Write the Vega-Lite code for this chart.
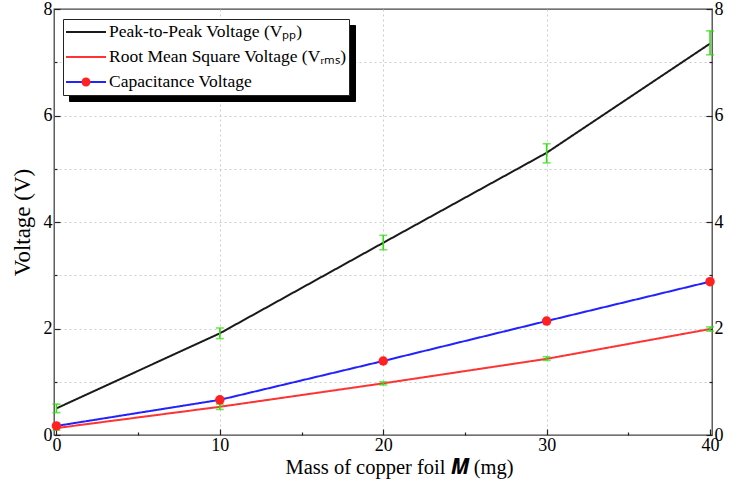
{
  "$schema": "https://vega.github.io/schema/vega-lite/v6.json",
  "width": 658,
  "height": 426,
  "autosize": {"type": "none"},
  "padding": {"left": 54, "top": 9, "right": 26, "bottom": 54},
  "background": "white",
  "config": {
    "font": "Liberation Serif",
    "view": {"stroke": "#444444", "strokeWidth": 1.3}
  },
  "data": {
    "values": [
      {"M": 0, "series": "Peak-to-Peak Voltage (Vₚₚ)", "V": 0.50, "lo": 0.42, "hi": 0.58},
      {"M": 10, "series": "Peak-to-Peak Voltage (Vₚₚ)", "V": 1.91, "lo": 1.81, "hi": 2.01},
      {"M": 20, "series": "Peak-to-Peak Voltage (Vₚₚ)", "V": 3.61, "lo": 3.48, "hi": 3.75},
      {"M": 30, "series": "Peak-to-Peak Voltage (Vₚₚ)", "V": 5.30, "lo": 5.11, "hi": 5.47},
      {"M": 40, "series": "Peak-to-Peak Voltage (Vₚₚ)", "V": 7.35, "lo": 7.14, "hi": 7.59},
      {"M": 0, "series": "Root Mean Square Voltage (Vᵣₘₛ)", "V": 0.13, "lo": 0.09, "hi": 0.18},
      {"M": 10, "series": "Root Mean Square Voltage (Vᵣₘₛ)", "V": 0.53, "lo": 0.48, "hi": 0.58},
      {"M": 20, "series": "Root Mean Square Voltage (Vᵣₘₛ)", "V": 0.97, "lo": 0.94, "hi": 1.00},
      {"M": 30, "series": "Root Mean Square Voltage (Vᵣₘₛ)", "V": 1.43, "lo": 1.40, "hi": 1.47},
      {"M": 40, "series": "Root Mean Square Voltage (Vᵣₘₛ)", "V": 1.99, "lo": 1.95, "hi": 2.03},
      {"M": 0, "series": "Capacitance Voltage", "V": 0.17},
      {"M": 10, "series": "Capacitance Voltage", "V": 0.66},
      {"M": 20, "series": "Capacitance Voltage", "V": 1.39},
      {"M": 30, "series": "Capacitance Voltage", "V": 2.14},
      {"M": 40, "series": "Capacitance Voltage", "V": 2.88}
    ]
  },
  "encoding": {
    "x": {
      "field": "M",
      "type": "quantitative",
      "scale": {"domain": [-0.15, 40.12], "nice": false, "zero": false},
      "axis": {
        "values": [0, 5, 10, 15, 20, 25, 30, 35, 40],
        "labelExpr": "datum.value % 10 === 0 ? datum.label : ''",
        "domain": false,
        "grid": true,
        "gridColor": "#cccccc",
        "gridDash": [2, 3],
        "gridOpacity": {"condition": {"test": "datum.value % 10 === 0 && datum.value > 0 && datum.value < 40", "value": 1}, "value": 0},
        "tickColor": "#222222",
        "tickWidth": 1.2,
        "tickSize": {"condition": {"test": "datum.value % 10 === 0", "value": -6}, "value": -3},
        "labelFont": "Liberation Serif",
        "labelFontSize": 18,
        "labelColor": "black",
        "labelPadding": 7,
        "title": "Mass of copper foil 𝑴 (mg)",
        "titleFont": "Liberation Serif",
        "titleFontSize": 20.5,
        "titleFontWeight": "normal",
        "titleColor": "black",
        "titlePadding": 3,
        "titleX": 345
      }
    }
  },
  "layer": [
    {
      "mark": {"type": "line", "strokeWidth": 2},
      "encoding": {
        "y": {
          "field": "V",
          "type": "quantitative",
          "scale": {"domain": [0, 8], "nice": false},
          "axis": {
            "values": [0, 1, 2, 3, 4, 5, 6, 7, 8],
            "labelExpr": "datum.value % 2 === 0 ? datum.label : ''",
            "domain": false,
            "grid": true,
            "gridColor": "#cccccc",
            "gridDash": [2, 3],
            "gridOpacity": {"condition": {"test": "datum.value > 0 && datum.value < 8", "value": 1}, "value": 0},
            "tickColor": "#222222",
            "tickWidth": 1.2,
            "tickSize": {"condition": {"test": "datum.value % 2 === 0", "value": -6}, "value": -3},
            "labelFont": "Liberation Serif",
            "labelFontSize": 18,
            "labelColor": "black",
            "labelPadding": 8,
            "title": "Voltage (V)",
            "titleFont": "Liberation Serif",
            "titleFontSize": 23,
            "titleFontWeight": "normal",
            "titleColor": "black",
            "titlePadding": 9
          }
        },
        "color": {
          "field": "series",
          "type": "nominal",
          "scale": {
            "domain": ["Peak-to-Peak Voltage (Vₚₚ)", "Root Mean Square Voltage (Vᵣₘₛ)", "Capacitance Voltage"],
            "range": ["#1a1a1a", "#ff3333", "#2222ff"]
          },
          "legend": {
            "orient": "none",
            "legendX": 9,
            "legendY": 10,
            "title": null,
            "fillColor": "white",
            "strokeColor": "#222222",
            "padding": 2,
            "clipHeight": 22,
            "rowPadding": 3,
            "labelOffset": 2,
            "labelLimit": 500,
            "labelFont": "Liberation Serif",
            "labelFontSize": 17.5,
            "labelColor": "black",
            "symbolType": "stroke",
            "symbolSize": 1600,
            "symbolStrokeWidth": 2,
            "zindex": 2
          }
        },
        "strokeDash": {
          "field": "series",
          "type": "nominal",
          "scale": {
            "domain": ["Capacitance Voltage", "Peak-to-Peak Voltage (Vₚₚ)", "Root Mean Square Voltage (Vᵣₘₛ)"],
            "range": [[1, 0], [1, 0], [1, 0]]
          },
          "legend": {
            "orient": "none",
            "legendX": 15,
            "legendY": 16,
            "title": null,
            "fillColor": "black",
            "strokeColor": "black",
            "padding": 2,
            "clipHeight": 22,
            "rowPadding": 3,
            "labelOffset": 2,
            "labelLimit": 500,
            "labelFont": "Liberation Serif",
            "labelFontSize": 17.5,
            "labelColor": "black",
            "symbolType": "stroke",
            "symbolSize": 1600,
            "symbolStrokeWidth": 2,
            "symbolStrokeColor": "black",
            "zindex": 1
          }
        }
      }
    },
    {
      "transform": [{"filter": "isValid(datum.lo)"}],
      "mark": {"type": "rule", "color": "#33dd11", "strokeWidth": 1.6},
      "encoding": {
        "y": {
          "field": "lo",
          "type": "quantitative",
          "scale": {"domain": [0, 8], "nice": false},
          "axis": {
            "orient": "right",
            "values": [0, 1, 2, 3, 4, 5, 6, 7, 8],
            "labelExpr": "datum.value % 2 === 0 ? datum.label : ''",
            "domain": false,
            "grid": false,
            "tickColor": "#222222",
            "tickWidth": 1.2,
            "tickSize": {"condition": {"test": "datum.value % 2 === 0", "value": -6}, "value": -3},
            "labelFont": "Liberation Serif",
            "labelFontSize": 18,
            "labelColor": "black",
            "labelPadding": 8,
            "title": null
          }
        },
        "y2": {"field": "hi"}
      }
    },
    {
      "transform": [{"filter": "isValid(datum.lo)"}],
      "mark": {"type": "tick", "orient": "horizontal", "color": "#33dd11", "thickness": 1.6},
      "encoding": {
        "y": {"field": "lo", "type": "quantitative", "scale": {"domain": [0, 8], "nice": false}, "axis": null},
        "size": {"value": 8}
      }
    },
    {
      "transform": [{"filter": "isValid(datum.hi)"}],
      "mark": {"type": "tick", "orient": "horizontal", "color": "#33dd11", "thickness": 1.6},
      "encoding": {
        "y": {"field": "hi", "type": "quantitative", "scale": {"domain": [0, 8], "nice": false}, "axis": null},
        "size": {"value": 8}
      }
    },
    {
      "transform": [{"filter": "datum.series === 'Capacitance Voltage'"}],
      "mark": {"type": "point", "filled": true, "size": 90, "strokeWidth": 0, "opacity": 1},
      "encoding": {
        "y": {"field": "V", "type": "quantitative", "scale": {"domain": [0, 8], "nice": false}, "axis": null},
        "fill": {
          "field": "series",
          "type": "nominal",
          "scale": {
            "domain": ["Peak-to-Peak Voltage (Vₚₚ)", "Root Mean Square Voltage (Vᵣₘₛ)", "Capacitance Voltage"],
            "range": ["transparent", "transparent", "#ff2020"]
          },
          "legend": {
            "orient": "top-left",
            "offset": 8,
            "title": null,
            "padding": 4,
            "clipHeight": 22,
            "rowPadding": 3,
            "labelOffset": 2,
            "labelLimit": 500,
            "labelFont": "Liberation Serif",
            "labelFontSize": 17.5,
            "labelColor": "transparent",
            "symbolType": "M-0.225,0A0.225,0.225,0,1,1,0.225,0A0.225,0.225,0,1,1,-0.225,0Z",
            "symbolSize": 1600,
            "symbolStrokeWidth": 2,
            "symbolStrokeColor": "transparent",
            "symbolOffset": -1,
            "zindex": 3
          }
        }
      }
    }
  ],
  "resolve": {"scale": {"y": "independent"}}
}
